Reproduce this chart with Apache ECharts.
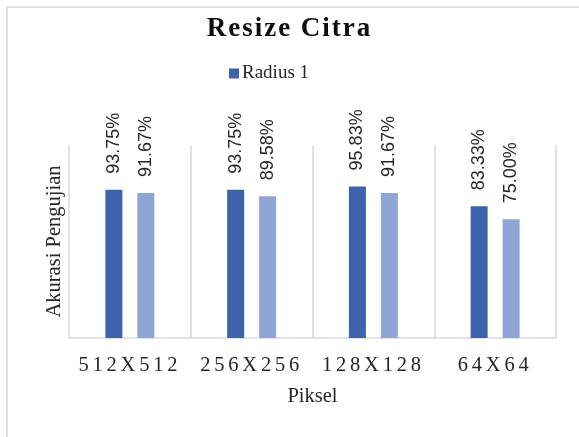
<!DOCTYPE html>
<html>
<head>
<meta charset="utf-8">
<script src="https://cdn.jsdelivr.net/npm/echarts@6/dist/echarts.min.js"></script>
<style>
html,body{margin:0;padding:0;background:#fff;}
#chart{width:579px;height:437px;}
</style>
</head>
<body>
<div id="chart"></div>
<script>
const categories = ['512X512', '256X256', '128X128', '64X64'];
const seriesNames = ['Radius 1', 'Radius 2'];
const radius1 = [93.75, 93.75, 95.83, 83.33];
const radius2 = [91.67, 89.58, 91.67, 75.00];
const titleText = 'Resize Citra';
const xName = 'Piksel';
const yName = 'Akurasi Pengujian';

// letter spacing for spaced-out texts (title and category labels)
const origFill = CanvasRenderingContext2D.prototype.fillText;
CanvasRenderingContext2D.prototype.fillText = function (t, x, y, w) {
  let sp = '0px';
  if (t === titleText) sp = '2px';
  else if (categories.indexOf(t) >= 0) sp = '3.8px';
  const f = this.font;
  this.letterSpacing = sp;
  this.font = f;
  const r = (w === undefined) ? origFill.call(this, t, x, y) : origFill.call(this, t, x, y, w);
  this.letterSpacing = '0px';
  this.font = f;
  return r;
};

const serif = '"Liberation Serif", "DejaVu Serif", serif';
const sans = '"Liberation Sans", Arial, sans-serif';

const chart = echarts.init(document.getElementById('chart'), null, {renderer: 'canvas'});

const labelOpt = {
  show: true,
  position: 'top',
  rotate: 90,
  align: 'left',
  verticalAlign: 'middle',
  distance: 16,
  fontFamily: sans,
  fontSize: 18,
  color: '#262626',
  formatter: p => p.value.toFixed(2) + '%'
};

chart.setOption({
  animation: false,
  backgroundColor: '#fff',
  graphic: [{
    type: 'rect',
    shape: {x: 7, y: 7, width: 700, height: 600},
    style: {fill: 'none', stroke: '#d9d9d9', lineWidth: 1.5},
    silent: true,
    z: -10
  }],
  title: {
    text: titleText,
    left: 'center',
    top: 11,
    textStyle: {fontFamily: serif, fontWeight: 'bold', fontSize: 27, color: '#0d0d0d'}
  },
  legend: {
    data: ['Radius 1'],
    left: 224,
    top: 59,
    itemWidth: 10,
    itemHeight: 10,
    icon: 'rect',
    textStyle: {fontFamily: serif, fontSize: 19, color: '#262626', padding: [0, 0, 0, -2]}
  },
  grid: {left: 69, right: 23, top: 145, bottom: 99},
  xAxis: {
    type: 'category',
    data: categories,
    name: xName,
    nameLocation: 'middle',
    nameGap: 48,
    nameTextStyle: {fontFamily: serif, fontSize: 20.5, color: '#262626'},
    axisLine: {lineStyle: {color: '#d9d9d9', width: 1.5}},
    axisTick: {show: false},
    axisLabel: {margin: 17, fontFamily: serif, fontSize: 20.5, color: '#262626'},
    splitLine: {show: true, lineStyle: {color: '#d9d9d9', width: 1.5}}
  },
  yAxis: {
    type: 'value',
    min: 0,
    max: 122,
    name: yName,
    nameLocation: 'middle',
    nameGap: 4,
    nameTextStyle: {fontFamily: serif, fontSize: 20.5, color: '#262626'},
    axisLine: {show: false},
    axisTick: {show: false},
    axisLabel: {show: false},
    splitLine: {show: false}
  },
  series: [
    {name: seriesNames[0], type: 'bar', data: radius1, barWidth: 17, barGap: '88%',
     itemStyle: {color: '#3d63ab'}, label: labelOpt},
    {name: seriesNames[1], type: 'bar', data: radius2, barWidth: 17, barGap: '88%',
     itemStyle: {color: '#8fa5d6'}, label: labelOpt}
  ]
});
</script>
</body>
</html>
